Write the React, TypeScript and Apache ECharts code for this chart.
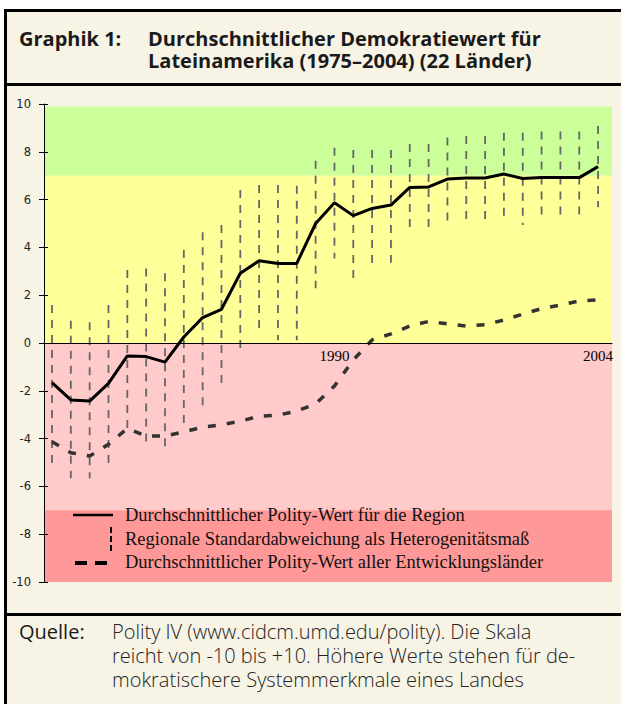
import React, { useEffect, useRef } from "react";
import * as echarts from "echarts";

const years = [1975, 1976, 1977, 1978, 1979, 1980, 1981, 1982, 1983, 1984, 1985, 1986, 1987, 1988, 1989, 1990, 1991, 1992, 1993, 1994, 1995, 1996, 1997, 1998, 1999, 2000, 2001, 2002, 2003, 2004];

const regionMean = [-1.66, -2.38, -2.43, -1.69, -0.54, -0.57, -0.8, 0.25, 1.06, 1.41, 2.92, 3.44, 3.33, 3.33, 5.0, 5.87, 5.33, 5.63, 5.77, 6.51, 6.53, 6.86, 6.9, 6.9, 7.07, 6.88, 6.92, 6.92, 6.92, 7.38];

const sdHigh = [1.59, 0.93, 0.87, 1.59, 3.05, 3.12, 2.92, 3.89, 4.63, 4.94, 6.4, 6.61, 6.61, 6.58, 7.63, 8.17, 8.08, 8.08, 8.08, 8.33, 8.33, 8.6, 8.66, 8.66, 8.8, 8.8, 8.85, 8.85, 8.85, 9.08];

const sdLow = [-5.1, -5.66, -5.66, -5.1, -3.8, -4.27, -4.4, -3.43, -2.64, -1.83, -0.39, 0.54, 0.12, 0.12, 2.29, 3.54, 2.64, 3.26, 3.36, 4.8, 4.8, 5.1, 5.17, 5.17, 5.26, 4.94, 5.31, 5.31, 5.31, 5.68];

const devMean = [-4.13, -4.59, -4.73, -4.24, -3.57, -3.89, -3.89, -3.72, -3.52, -3.42, -3.27, -3.06, -3.02, -2.85, -2.55, -1.8, -0.71, 0.13, 0.38, 0.71, 0.9, 0.8, 0.71, 0.77, 0.96, 1.21, 1.44, 1.59, 1.76, 1.81];

const yTicks = { min: -10, max: 10, interval: 2 };
const xLabelYears = [1990, 2004];

const bands = [
  { from: 7, to: 9.9, color: "#ccff99" },
  { from: 0, to: 7, color: "#ffff99" },
  { from: -7, to: 0, color: "#ffcaca" },
  { from: -10, to: -7, color: "#ff9999" },
];

const titleLabel = "Graphik 1:";
const titleLines = ["Durchschnittlicher Demokratiewert für", "Lateinamerika (1975–2004) (22 Länder)"];
const legendTexts = [
  "Durchschnittlicher Polity-Wert für die Region",
  "Regionale Standardabweichung als Heterogenitätsmaß",
  "Durchschnittlicher Polity-Wert aller Entwicklungsländer",
];
const sourceLabel = "Quelle:";
const sourceLines = [
  "Polity IV (www.cidcm.umd.edu/polity). Die Skala",
  "reicht von -10 bis +10. Höhere Werte stehen für de-",
  "mokratischere Systemmerkmale eines Landes",
];

const CREAM = "#f7f3e5";
const SANS = "'Open Sans', 'Noto Sans', sans-serif";
const SERIF = "'Liberation Serif', 'DejaVu Serif', serif";

const GRID_TOP = 104;
const GRID_HEIGHT = 478;

export default function App() {
  const ref = useRef<HTMLDivElement>(null);

  useEffect(() => {
    if (!ref.current) return;
    const chart = echarts.init(ref.current, undefined, { renderer: "svg" });

    const errData = years.map((y, i) => [y, sdLow[i], sdHigh[i]]);
    const meanData = years.map((y, i) => [y, regionMean[i]]);
    const devData = years.map((y, i) => [y, devMean[i]]);

    const axisBase = {
      type: "value",
      min: yTicks.min,
      max: yTicks.max,
      interval: yTicks.interval,
      splitLine: { show: false },
      z: 10,
    };

    // x axis sits at value 0 of the y range
    const zeroOffset = -GRID_HEIGHT * ((0 - yTicks.min) / (yTicks.max - yTicks.min));

    const option: any = {
      animation: false,
      backgroundColor: "transparent",
      grid: { left: 44, top: GRID_TOP, right: 9, height: GRID_HEIGHT, containLabel: false },
      xAxis: {
        type: "value",
        position: "bottom",
        offset: zeroOffset,
        z: 10,
        min: 1974.575,
        max: 2004.74,
        splitLine: { show: false },
        axisLine: { show: true, onZero: false, lineStyle: { color: "#000", width: 1 } },
        axisTick: { show: false },
        axisLabel: {
          customValues: xLabelYears,
          formatter: (v: number) => String(v),
          fontFamily: SERIF,
          fontSize: 15,
          color: "#000",
          margin: 5,
        },
      },
      yAxis: [
        {
          ...axisBase,
          axisLine: { show: true, onZero: false, lineStyle: { color: "#000", width: 1 } },
          axisTick: { show: true, inside: false, length: 5, lineStyle: { color: "#000", width: 1 } },
          axisLabel: { fontFamily: "'DejaVu Sans', sans-serif", fontSize: 11.5, color: "#222", margin: 13 },
        },
        {
          ...axisBase,
          position: "left",
          axisLine: { show: false, onZero: false },
          axisTick: { show: true, inside: true, length: 4, lineStyle: { color: "#000", width: 1 } },
          axisLabel: { show: false },
        },
      ],
      graphic: [
        { type: "rect", z: -10, shape: { x: 7, y: 12, width: 614, height: 692 }, style: { fill: CREAM } },
        { type: "rect", z: -5, shape: { x: 4, y: 9, width: 3, height: 695 }, style: { fill: "#000" } },
        { type: "rect", z: -5, shape: { x: 4, y: 9, width: 617, height: 3 }, style: { fill: "#000" } },
        { type: "rect", z: -5, shape: { x: 4, y: 83, width: 617, height: 3 }, style: { fill: "#000" } },
        { type: "rect", z: -5, shape: { x: 4, y: 613, width: 617, height: 3 }, style: { fill: "#000" } },
        {
          type: "text", z: 5, x: 19, y: 27,
          style: { text: titleLabel, fill: "#1a1a1a", font: `bold 20px ${SANS}`, lineHeight: 22, verticalAlign: "top" },
        },
        {
          type: "text", z: 5, x: 148, y: 27,
          style: { text: titleLines.join("\n"), fill: "#1a1a1a", font: `bold 20px ${SANS}`, lineHeight: 22, verticalAlign: "top" },
        },
        {
          type: "text", z: 5, x: 19, y: 619,
          style: { text: sourceLabel, fill: "#1a1a1a", font: `normal 20px ${SANS}`, lineHeight: 24, verticalAlign: "top" },
        },
        {
          type: "text", z: 5, x: 112, y: 619,
          style: { text: sourceLines.join("\n"), fill: "#222", font: `300 20px ${SANS}`, lineHeight: 24, verticalAlign: "top" },
        },
        // legend
        {
          type: "group", z: 50,
          children: [
            { type: "line", z: 50, shape: { x1: 73, y1: 515, x2: 113, y2: 515 }, style: { stroke: "#000", lineWidth: 2.5 } },
            { type: "line", z: 50, shape: { x1: 111, y1: 527, x2: 111, y2: 552 }, style: { stroke: "#000", lineWidth: 2, lineDash: [6, 3] } },
            { type: "line", z: 50, shape: { x1: 75, y1: 563, x2: 108, y2: 563 }, style: { stroke: "#000", lineWidth: 4, lineDash: [12, 8] } },
            ...legendTexts.map((t, i) => ({
              type: "text", z: 50, x: 125, y: 515 + i * 23.5,
              style: { text: t, fill: "#111", font: `18.5px ${SERIF}`, verticalAlign: "middle" },
            })),
          ],
        },
      ],
      series: [
        {
          type: "line",
          yAxisIndex: 0,
          z: 1,
          data: [[years[0], 0]],
          symbol: "none",
          lineStyle: { width: 0, opacity: 0 },
          silent: true,
          markArea: {
            silent: true,
            data: bands.map((b) => [
              { yAxis: b.from, itemStyle: { color: b.color, opacity: 1 } },
              { yAxis: b.to },
            ]),
          },
        },
        {
          type: "custom",
          yAxisIndex: 0,
          z: 3,
          data: errData,
          encode: { x: 0, y: [1, 2] },
          renderItem: (params: any, api: any) => {
            const x = api.value(0);
            const lo = api.coord([x, api.value(1)]);
            const hi = api.coord([x, api.value(2)]);
            return {
              type: "line",
              shape: { x1: hi[0], y1: hi[1], x2: lo[0], y2: lo[1] },
              style: { stroke: "#666", lineWidth: 1.8, lineDash: [8, 7] },
            };
          },
        },
        {
          type: "line",
          yAxisIndex: 0,
          z: 4,
          data: devData,
          symbol: "none",
          lineStyle: { color: "#333", width: 3.5, type: [8, 11] },
        },
        {
          type: "line",
          yAxisIndex: 0,
          z: 5,
          data: meanData,
          symbol: "none",
          lineStyle: { color: "#000", width: 3 },
        },
      ],
    };

    chart.setOption(option);
    return () => chart.dispose();
  }, []);

  return (
    <div
      ref={ref}
      style={{ position: "absolute", left: 0, top: 0, width: 621, height: 704 }}
    />
  );
}
